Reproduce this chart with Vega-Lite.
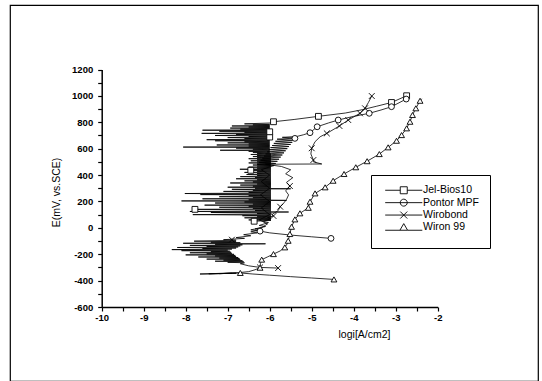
{
 "$schema": "https://vega.github.io/schema/vega-lite/v6.json",
 "width": 528, "height": 376,
 "autosize": {"type": "none"},
 "padding": {"left": 10, "top": 5, "right": 4, "bottom": 0},
 "background": "white",
 "config": {
  "view": {"stroke": "black", "strokeWidth": 1.2},
  "font": "Liberation Sans",
  "axis": {"labelFont": "Liberation Sans", "titleFont": "Liberation Sans", "grid": false}
 },
 "datasets": {
  "curves": [
   {"s":"Jel-Bios10","x":-6.37,"y":50},
   {"s":"Jel-Bios10","x":-5.97,"y":56},{"s":"Jel-Bios10","x":-6.5,"y":60},
   {"s":"Jel-Bios10","x":-5.97,"y":64},{"s":"Jel-Bios10","x":-6.3,"y":68},
   {"s":"Jel-Bios10","x":-5.97,"y":72},{"s":"Jel-Bios10","x":-6.6,"y":76},
   {"s":"Jel-Bios10","x":-5.97,"y":80},{"s":"Jel-Bios10","x":-6.3,"y":84},
   {"s":"Jel-Bios10","x":-5.97,"y":88},{"s":"Jel-Bios10","x":-6.65,"y":92},
   {"s":"Jel-Bios10","x":-5.97,"y":96},{"s":"Jel-Bios10","x":-7.83,"y":100},
   {"s":"Jel-Bios10","x":-5.97,"y":104},{"s":"Jel-Bios10","x":-6.3,"y":108},
   {"s":"Jel-Bios10","x":-5.97,"y":112},{"s":"Jel-Bios10","x":-7.4,"y":116},
   {"s":"Jel-Bios10","x":-5.55,"y":120},{"s":"Jel-Bios10","x":-7.9,"y":124},
   {"s":"Jel-Bios10","x":-5.97,"y":128},{"s":"Jel-Bios10","x":-6.35,"y":132},
   {"s":"Jel-Bios10","x":-5.97,"y":136},{"s":"Jel-Bios10","x":-7.78,"y":140},
   {"s":"Jel-Bios10","x":-5.97,"y":144},{"s":"Jel-Bios10","x":-6.4,"y":148},
   {"s":"Jel-Bios10","x":-5.97,"y":152},{"s":"Jel-Bios10","x":-7.2,"y":156},
   {"s":"Jel-Bios10","x":-5.97,"y":160},{"s":"Jel-Bios10","x":-6.5,"y":164},
   {"s":"Jel-Bios10","x":-5.97,"y":168},{"s":"Jel-Bios10","x":-7.55,"y":172},
   {"s":"Jel-Bios10","x":-5.97,"y":176},{"s":"Jel-Bios10","x":-6.4,"y":180},
   {"s":"Jel-Bios10","x":-5.97,"y":184},{"s":"Jel-Bios10","x":-7.3,"y":188},
   {"s":"Jel-Bios10","x":-5.97,"y":192},{"s":"Jel-Bios10","x":-6.6,"y":196},
   {"s":"Jel-Bios10","x":-5.97,"y":200},{"s":"Jel-Bios10","x":-8.1,"y":204},
   {"s":"Jel-Bios10","x":-5.6,"y":208},{"s":"Jel-Bios10","x":-6.5,"y":212},
   {"s":"Jel-Bios10","x":-5.97,"y":216},{"s":"Jel-Bios10","x":-7.6,"y":220},
   {"s":"Jel-Bios10","x":-5.97,"y":224},{"s":"Jel-Bios10","x":-6.4,"y":228},
   {"s":"Jel-Bios10","x":-5.97,"y":232},{"s":"Jel-Bios10","x":-7.2,"y":236},
   {"s":"Jel-Bios10","x":-5.97,"y":240},{"s":"Jel-Bios10","x":-6.5,"y":244},
   {"s":"Jel-Bios10","x":-5.97,"y":248},{"s":"Jel-Bios10","x":-7.65,"y":252},
   {"s":"Jel-Bios10","x":-5.97,"y":256},{"s":"Jel-Bios10","x":-8.02,"y":260},
   {"s":"Jel-Bios10","x":-5.97,"y":264},{"s":"Jel-Bios10","x":-6.5,"y":268},
   {"s":"Jel-Bios10","x":-5.97,"y":272},{"s":"Jel-Bios10","x":-7.1,"y":276},
   {"s":"Jel-Bios10","x":-5.97,"y":280},{"s":"Jel-Bios10","x":-6.4,"y":284},
   {"s":"Jel-Bios10","x":-5.97,"y":288},{"s":"Jel-Bios10","x":-6.9,"y":292},
   {"s":"Jel-Bios10","x":-5.5,"y":296},{"s":"Jel-Bios10","x":-6.35,"y":300},
   {"s":"Jel-Bios10","x":-5.97,"y":304},{"s":"Jel-Bios10","x":-7.0,"y":308},
   {"s":"Jel-Bios10","x":-5.97,"y":312},{"s":"Jel-Bios10","x":-6.4,"y":316},
   {"s":"Jel-Bios10","x":-5.97,"y":320},{"s":"Jel-Bios10","x":-6.7,"y":324},
   {"s":"Jel-Bios10","x":-5.97,"y":328},{"s":"Jel-Bios10","x":-6.3,"y":332},
   {"s":"Jel-Bios10","x":-5.97,"y":336},{"s":"Jel-Bios10","x":-6.94,"y":340},
   {"s":"Jel-Bios10","x":-5.97,"y":344},{"s":"Jel-Bios10","x":-6.4,"y":348},
   {"s":"Jel-Bios10","x":-5.97,"y":352},{"s":"Jel-Bios10","x":-6.6,"y":356},
   {"s":"Jel-Bios10","x":-5.97,"y":360},{"s":"Jel-Bios10","x":-6.3,"y":364},
   {"s":"Jel-Bios10","x":-5.97,"y":368},{"s":"Jel-Bios10","x":-6.8,"y":372},
   {"s":"Jel-Bios10","x":-5.97,"y":376},{"s":"Jel-Bios10","x":-6.35,"y":380},
   {"s":"Jel-Bios10","x":-5.97,"y":384},{"s":"Jel-Bios10","x":-6.7,"y":388},
   {"s":"Jel-Bios10","x":-5.97,"y":392},{"s":"Jel-Bios10","x":-6.3,"y":396},
   {"s":"Jel-Bios10","x":-5.97,"y":400},{"s":"Jel-Bios10","x":-6.55,"y":404},
   {"s":"Jel-Bios10","x":-5.97,"y":408},{"s":"Jel-Bios10","x":-6.3,"y":412},
   {"s":"Jel-Bios10","x":-5.97,"y":416},{"s":"Jel-Bios10","x":-6.6,"y":420},
   {"s":"Jel-Bios10","x":-5.97,"y":424},{"s":"Jel-Bios10","x":-6.3,"y":428},
   {"s":"Jel-Bios10","x":-5.97,"y":432},{"s":"Jel-Bios10","x":-6.45,"y":436},
   {"s":"Jel-Bios10","x":-5.97,"y":440},{"s":"Jel-Bios10","x":-6.71,"y":444},
   {"s":"Jel-Bios10","x":-5.97,"y":448},{"s":"Jel-Bios10","x":-6.3,"y":452},
   {"s":"Jel-Bios10","x":-5.97,"y":456},{"s":"Jel-Bios10","x":-6.5,"y":460},
   {"s":"Jel-Bios10","x":-5.97,"y":464},{"s":"Jel-Bios10","x":-6.3,"y":468},
   {"s":"Jel-Bios10","x":-5.97,"y":472},{"s":"Jel-Bios10","x":-6.4,"y":476},
   {"s":"Jel-Bios10","x":-5.97,"y":480},{"s":"Jel-Bios10","x":-6.3,"y":484},
   {"s":"Jel-Bios10","x":-5.97,"y":488},{"s":"Jel-Bios10","x":-6.5,"y":492},
   {"s":"Jel-Bios10","x":-5.97,"y":496},{"s":"Jel-Bios10","x":-6.3,"y":500},
   {"s":"Jel-Bios10","x":-5.97,"y":504},{"s":"Jel-Bios10","x":-6.45,"y":508},
   {"s":"Jel-Bios10","x":-5.97,"y":512},{"s":"Jel-Bios10","x":-6.3,"y":516},
   {"s":"Jel-Bios10","x":-5.97,"y":520},{"s":"Jel-Bios10","x":-6.5,"y":524},
   {"s":"Jel-Bios10","x":-5.97,"y":528},{"s":"Jel-Bios10","x":-6.3,"y":532},
   {"s":"Jel-Bios10","x":-5.97,"y":536},{"s":"Jel-Bios10","x":-6.4,"y":540},
   {"s":"Jel-Bios10","x":-5.97,"y":544},{"s":"Jel-Bios10","x":-6.3,"y":548},
   {"s":"Jel-Bios10","x":-5.97,"y":552},{"s":"Jel-Bios10","x":-6.45,"y":556},
   {"s":"Jel-Bios10","x":-5.97,"y":560},{"s":"Jel-Bios10","x":-6.3,"y":564},
   {"s":"Jel-Bios10","x":-6.0,"y":568},{"s":"Jel-Bios10","x":-6.4,"y":572},
   {"s":"Jel-Bios10","x":-6.0,"y":576},{"s":"Jel-Bios10","x":-6.5,"y":580},
   {"s":"Jel-Bios10","x":-6.0,"y":584},{"s":"Jel-Bios10","x":-7.18,"y":588},
   {"s":"Jel-Bios10","x":-6.0,"y":592},{"s":"Jel-Bios10","x":-6.4,"y":596},
   {"s":"Jel-Bios10","x":-6.0,"y":600},{"s":"Jel-Bios10","x":-6.8,"y":604},
   {"s":"Jel-Bios10","x":-6.0,"y":608},{"s":"Jel-Bios10","x":-8.06,"y":612},
   {"s":"Jel-Bios10","x":-6.0,"y":616},{"s":"Jel-Bios10","x":-6.5,"y":620},
   {"s":"Jel-Bios10","x":-6.0,"y":624},{"s":"Jel-Bios10","x":-7.26,"y":628},
   {"s":"Jel-Bios10","x":-6.0,"y":632},{"s":"Jel-Bios10","x":-6.5,"y":636},
   {"s":"Jel-Bios10","x":-6.0,"y":640},{"s":"Jel-Bios10","x":-7.0,"y":644},
   {"s":"Jel-Bios10","x":-6.0,"y":648},{"s":"Jel-Bios10","x":-6.6,"y":652},
   {"s":"Jel-Bios10","x":-6.0,"y":656},{"s":"Jel-Bios10","x":-7.3,"y":660},
   {"s":"Jel-Bios10","x":-6.0,"y":664},{"s":"Jel-Bios10","x":-7.5,"y":668},
   {"s":"Jel-Bios10","x":-6.0,"y":672},{"s":"Jel-Bios10","x":-6.6,"y":676},
   {"s":"Jel-Bios10","x":-6.0,"y":680},{"s":"Jel-Bios10","x":-7.0,"y":684},
   {"s":"Jel-Bios10","x":-6.0,"y":688},{"s":"Jel-Bios10","x":-6.5,"y":692},
   {"s":"Jel-Bios10","x":-6.0,"y":696},{"s":"Jel-Bios10","x":-7.3,"y":700},
   {"s":"Jel-Bios10","x":-6.0,"y":704},{"s":"Jel-Bios10","x":-6.8,"y":708},
   {"s":"Jel-Bios10","x":-6.0,"y":712},{"s":"Jel-Bios10","x":-7.62,"y":716},
   {"s":"Jel-Bios10","x":-6.0,"y":720},{"s":"Jel-Bios10","x":-6.6,"y":724},
   {"s":"Jel-Bios10","x":-6.0,"y":728},{"s":"Jel-Bios10","x":-7.2,"y":732},
   {"s":"Jel-Bios10","x":-6.0,"y":736},{"s":"Jel-Bios10","x":-7.6,"y":740},
   {"s":"Jel-Bios10","x":-6.0,"y":744},{"s":"Jel-Bios10","x":-6.7,"y":748},
   {"s":"Jel-Bios10","x":-6.0,"y":752},{"s":"Jel-Bios10","x":-6.94,"y":756},
   {"s":"Jel-Bios10","x":-6.0,"y":760},{"s":"Jel-Bios10","x":-6.5,"y":764},
   {"s":"Jel-Bios10","x":-6.0,"y":768},{"s":"Jel-Bios10","x":-6.9,"y":772},
   {"s":"Jel-Bios10","x":-6.0,"y":776},{"s":"Jel-Bios10","x":-6.4,"y":780},
   {"s":"Jel-Bios10","x":-6.0,"y":784},{"s":"Jel-Bios10","x":-6.6,"y":788},
   {"s":"Jel-Bios10","x":-5.95,"y":795},{"s":"Jel-Bios10","x":-5.91,"y":804},
   {"s":"Jel-Bios10","x":-5.4,"y":822},{"s":"Jel-Bios10","x":-4.84,"y":845},
   {"s":"Jel-Bios10","x":-4.2,"y":870},{"s":"Jel-Bios10","x":-3.8,"y":895},
   {"s":"Jel-Bios10","x":-3.45,"y":922},{"s":"Jel-Bios10","x":-3.1,"y":950},
   {"s":"Jel-Bios10","x":-2.74,"y":1001},

   {"s":"Pontor MPF","x":-4.54,"y":-80},{"s":"Pontor MPF","x":-5.0,"y":-68},
   {"s":"Pontor MPF","x":-5.5,"y":-55},{"s":"Pontor MPF","x":-6.0,"y":-38},
   {"s":"Pontor MPF","x":-6.23,"y":-25},{"s":"Pontor MPF","x":-6.45,"y":-15},
   {"s":"Pontor MPF","x":-6.2,"y":0},{"s":"Pontor MPF","x":-6.05,"y":30},
   {"s":"Pontor MPF","x":-6.25,"y":60},{"s":"Pontor MPF","x":-6.0,"y":100},
   {"s":"Pontor MPF","x":-6.2,"y":150},{"s":"Pontor MPF","x":-6.0,"y":200},
   {"s":"Pontor MPF","x":-6.22,"y":250},{"s":"Pontor MPF","x":-6.0,"y":300},
   {"s":"Pontor MPF","x":-6.2,"y":350},{"s":"Pontor MPF","x":-6.0,"y":400},
   {"s":"Pontor MPF","x":-6.2,"y":440},{"s":"Pontor MPF","x":-6.0,"y":462},
   {"s":"Pontor MPF","x":-5.895,"y":472},{"s":"Pontor MPF","x":-6.295,"y":480},
   {"s":"Pontor MPF","x":-5.856,"y":488},{"s":"Pontor MPF","x":-6.256,"y":496},
   {"s":"Pontor MPF","x":-5.817,"y":504},{"s":"Pontor MPF","x":-6.217,"y":512},
   {"s":"Pontor MPF","x":-5.777,"y":520},{"s":"Pontor MPF","x":-6.177,"y":528},
   {"s":"Pontor MPF","x":-5.738,"y":536},{"s":"Pontor MPF","x":-6.138,"y":544},
   {"s":"Pontor MPF","x":-5.699,"y":552},{"s":"Pontor MPF","x":-6.099,"y":560},
   {"s":"Pontor MPF","x":-5.659,"y":568},{"s":"Pontor MPF","x":-6.059,"y":576},
   {"s":"Pontor MPF","x":-5.62,"y":584},{"s":"Pontor MPF","x":-6.02,"y":592},
   {"s":"Pontor MPF","x":-5.581,"y":600},{"s":"Pontor MPF","x":-5.981,"y":608},
   {"s":"Pontor MPF","x":-5.542,"y":616},{"s":"Pontor MPF","x":-5.942,"y":624},
   {"s":"Pontor MPF","x":-5.502,"y":632},{"s":"Pontor MPF","x":-5.902,"y":640},
   {"s":"Pontor MPF","x":-5.463,"y":648},{"s":"Pontor MPF","x":-5.863,"y":656},
   {"s":"Pontor MPF","x":-5.424,"y":664},{"s":"Pontor MPF","x":-5.824,"y":672},
   {"s":"Pontor MPF","x":-5.384,"y":680},{"s":"Pontor MPF","x":-5.7,"y":686},
   {"s":"Pontor MPF","x":-5.36,"y":692},{"s":"Pontor MPF","x":-5.2,"y":705},
   {"s":"Pontor MPF","x":-5.04,"y":721},{"s":"Pontor MPF","x":-4.87,"y":766},
   {"s":"Pontor MPF","x":-4.6,"y":795},{"s":"Pontor MPF","x":-4.37,"y":817},
   {"s":"Pontor MPF","x":-4.0,"y":845},{"s":"Pontor MPF","x":-3.63,"y":868},
   {"s":"Pontor MPF","x":-3.35,"y":893},{"s":"Pontor MPF","x":-3.1,"y":918},
   {"s":"Pontor MPF","x":-2.75,"y":976},

   {"s":"Wirobond","x":-5.8,"y":-305},{"s":"Wirobond","x":-6.23,"y":-300},
   {"s":"Wirobond","x":-6.5,"y":-288},{"s":"Wirobond","x":-6.7,"y":-272},
   {"s":"Wirobond","x":-6.6,"y":-265},{"s":"Wirobond","x":-7.0,"y":-261},
   {"s":"Wirobond","x":-6.62,"y":-257},{"s":"Wirobond","x":-7.3,"y":-253},
   {"s":"Wirobond","x":-6.65,"y":-249},{"s":"Wirobond","x":-7.1,"y":-245},
   {"s":"Wirobond","x":-6.7,"y":-241},{"s":"Wirobond","x":-7.5,"y":-237},
   {"s":"Wirobond","x":-6.72,"y":-233},{"s":"Wirobond","x":-7.2,"y":-229},
   {"s":"Wirobond","x":-6.75,"y":-225},{"s":"Wirobond","x":-7.7,"y":-221},
   {"s":"Wirobond","x":-6.8,"y":-217},{"s":"Wirobond","x":-7.3,"y":-213},
   {"s":"Wirobond","x":-6.82,"y":-209},{"s":"Wirobond","x":-8.0,"y":-205},
   {"s":"Wirobond","x":-6.85,"y":-201},{"s":"Wirobond","x":-7.5,"y":-197},
   {"s":"Wirobond","x":-6.9,"y":-193},{"s":"Wirobond","x":-7.9,"y":-189},
   {"s":"Wirobond","x":-6.92,"y":-185},{"s":"Wirobond","x":-7.4,"y":-181},
   {"s":"Wirobond","x":-6.95,"y":-177},{"s":"Wirobond","x":-8.1,"y":-173},
   {"s":"Wirobond","x":-7.0,"y":-169},{"s":"Wirobond","x":-8.33,"y":-165},
   {"s":"Wirobond","x":-6.9,"y":-161},{"s":"Wirobond","x":-7.6,"y":-157},
   {"s":"Wirobond","x":-6.8,"y":-153},{"s":"Wirobond","x":-8.2,"y":-149},
   {"s":"Wirobond","x":-6.75,"y":-145},{"s":"Wirobond","x":-7.5,"y":-141},
   {"s":"Wirobond","x":-6.7,"y":-137},{"s":"Wirobond","x":-7.9,"y":-133},
   {"s":"Wirobond","x":-6.65,"y":-129},{"s":"Wirobond","x":-7.3,"y":-125},
   {"s":"Wirobond","x":-6.1,"y":-121},{"s":"Wirobond","x":-8.06,"y":-117},
   {"s":"Wirobond","x":-6.7,"y":-113},{"s":"Wirobond","x":-7.4,"y":-109},
   {"s":"Wirobond","x":-6.8,"y":-105},{"s":"Wirobond","x":-7.8,"y":-101},
   {"s":"Wirobond","x":-6.8,"y":-94},{"s":"Wirobond","x":-7.1,"y":-90},
   {"s":"Wirobond","x":-6.6,"y":-80},{"s":"Wirobond","x":-6.8,"y":-74},
   {"s":"Wirobond","x":-6.45,"y":-60},{"s":"Wirobond","x":-6.62,"y":-52},
   {"s":"Wirobond","x":-6.3,"y":-38},{"s":"Wirobond","x":-6.45,"y":-30},
   {"s":"Wirobond","x":-6.2,"y":-15},{"s":"Wirobond","x":-6.35,"y":-8},
   {"s":"Wirobond","x":-6.1,"y":10},{"s":"Wirobond","x":-6.25,"y":18},
   {"s":"Wirobond","x":-6.03,"y":40},{"s":"Wirobond","x":-6.15,"y":48},
   {"s":"Wirobond","x":-5.97,"y":70},{"s":"Wirobond","x":-6.05,"y":78},
   {"s":"Wirobond","x":-5.91,"y":90},{"s":"Wirobond","x":-5.95,"y":100},
   {"s":"Wirobond","x":-5.8,"y":130},{"s":"Wirobond","x":-5.75,"y":160},
   {"s":"Wirobond","x":-5.66,"y":190},{"s":"Wirobond","x":-5.6,"y":215},
   {"s":"Wirobond","x":-5.55,"y":250},{"s":"Wirobond","x":-5.62,"y":280},
   {"s":"Wirobond","x":-5.52,"y":317},{"s":"Wirobond","x":-5.6,"y":345},
   {"s":"Wirobond","x":-5.45,"y":380},{"s":"Wirobond","x":-5.62,"y":410},
   {"s":"Wirobond","x":-5.5,"y":440},{"s":"Wirobond","x":-5.72,"y":465},
   {"s":"Wirobond","x":-6.1,"y":482},{"s":"Wirobond","x":-4.76,"y":484},
   {"s":"Wirobond","x":-4.96,"y":500},{"s":"Wirobond","x":-4.96,"y":514},
   {"s":"Wirobond","x":-5.02,"y":560},{"s":"Wirobond","x":-5.0,"y":603},
   {"s":"Wirobond","x":-4.92,"y":653},{"s":"Wirobond","x":-4.8,"y":690},
   {"s":"Wirobond","x":-4.64,"y":716},{"s":"Wirobond","x":-4.34,"y":772},
   {"s":"Wirobond","x":-4.13,"y":817},{"s":"Wirobond","x":-3.85,"y":868},
   {"s":"Wirobond","x":-3.73,"y":906},{"s":"Wirobond","x":-3.65,"y":950},
   {"s":"Wirobond","x":-3.57,"y":999},

   {"s":"Wiron 99","x":-4.47,"y":-391},{"s":"Wiron 99","x":-5.0,"y":-380},
   {"s":"Wiron 99","x":-5.5,"y":-370},{"s":"Wiron 99","x":-6.0,"y":-359},
   {"s":"Wiron 99","x":-6.4,"y":-350},{"s":"Wiron 99","x":-6.7,"y":-342},
   {"s":"Wiron 99","x":-7.2,"y":-347},{"s":"Wiron 99","x":-6.8,"y":-344},
   {"s":"Wiron 99","x":-7.66,"y":-350},{"s":"Wiron 99","x":-6.9,"y":-345},
   {"s":"Wiron 99","x":-7.45,"y":-348},{"s":"Wiron 99","x":-6.75,"y":-340},
   {"s":"Wiron 99","x":-6.5,"y":-332},{"s":"Wiron 99","x":-6.35,"y":-318},
   {"s":"Wiron 99","x":-6.23,"y":-302},{"s":"Wiron 99","x":-6.22,"y":-270},
   {"s":"Wiron 99","x":-6.19,"y":-241},{"s":"Wiron 99","x":-6.05,"y":-220},
   {"s":"Wiron 99","x":-5.91,"y":-199},{"s":"Wiron 99","x":-5.75,"y":-175},
   {"s":"Wiron 99","x":-5.64,"y":-148},{"s":"Wiron 99","x":-5.58,"y":-120},
   {"s":"Wiron 99","x":-5.56,"y":-98},{"s":"Wiron 99","x":-5.52,"y":-47},
   {"s":"Wiron 99","x":-5.48,"y":8},{"s":"Wiron 99","x":-5.4,"y":64},
   {"s":"Wiron 99","x":-5.28,"y":110},{"s":"Wiron 99","x":-5.08,"y":152},
   {"s":"Wiron 99","x":-5.04,"y":198},{"s":"Wiron 99","x":-4.92,"y":261},
   {"s":"Wiron 99","x":-4.68,"y":307},{"s":"Wiron 99","x":-4.49,"y":357},
   {"s":"Wiron 99","x":-4.23,"y":408},{"s":"Wiron 99","x":-3.95,"y":459},
   {"s":"Wiron 99","x":-3.68,"y":505},{"s":"Wiron 99","x":-3.39,"y":559},
   {"s":"Wiron 99","x":-3.18,"y":610},{"s":"Wiron 99","x":-2.98,"y":660},
   {"s":"Wiron 99","x":-2.86,"y":703},{"s":"Wiron 99","x":-2.74,"y":754},
   {"s":"Wiron 99","x":-2.66,"y":804},{"s":"Wiron 99","x":-2.6,"y":855},
   {"s":"Wiron 99","x":-2.52,"y":906},{"s":"Wiron 99","x":-2.42,"y":963},
   {"s":"Wiron 99","x":-2.38,"y":978}
  ],
  "markers": [
   {"s":"Jel-Bios10","x":-6.37,"y":50},{"s":"Jel-Bios10","x":-7.78,"y":140},
   {"s":"Jel-Bios10","x":-6.45,"y":436},{"s":"Jel-Bios10","x":-6.0,"y":688},
   {"s":"Jel-Bios10","x":-6.0,"y":728},{"s":"Jel-Bios10","x":-5.91,"y":804},
   {"s":"Jel-Bios10","x":-4.84,"y":845},{"s":"Jel-Bios10","x":-3.1,"y":950},
   {"s":"Jel-Bios10","x":-2.74,"y":1001},
   {"s":"Pontor MPF","x":-4.54,"y":-80},{"s":"Pontor MPF","x":-6.23,"y":-25},
   {"s":"Pontor MPF","x":-5.4,"y":678},{"s":"Pontor MPF","x":-5.04,"y":721},
   {"s":"Pontor MPF","x":-4.87,"y":766},{"s":"Pontor MPF","x":-4.37,"y":817},
   {"s":"Pontor MPF","x":-3.63,"y":868},{"s":"Pontor MPF","x":-3.1,"y":918},
   {"s":"Pontor MPF","x":-2.75,"y":976},
   {"s":"Wirobond","x":-5.8,"y":-305},{"s":"Wirobond","x":-6.23,"y":-300},
   {"s":"Wirobond","x":-6.9,"y":-90},{"s":"Wirobond","x":-5.91,"y":90},
   {"s":"Wirobond","x":-5.75,"y":160},{"s":"Wirobond","x":-5.52,"y":317},
   {"s":"Wirobond","x":-4.96,"y":514},{"s":"Wirobond","x":-5.0,"y":603},
   {"s":"Wirobond","x":-4.64,"y":716},{"s":"Wirobond","x":-4.34,"y":772},
   {"s":"Wirobond","x":-4.13,"y":817},{"s":"Wirobond","x":-3.85,"y":868},
   {"s":"Wirobond","x":-3.73,"y":906},{"s":"Wirobond","x":-3.57,"y":999},
   {"s":"Wiron 99","x":-4.47,"y":-391},{"s":"Wiron 99","x":-6.7,"y":-342},
   {"s":"Wiron 99","x":-6.23,"y":-302},{"s":"Wiron 99","x":-6.19,"y":-241},
   {"s":"Wiron 99","x":-5.91,"y":-199},{"s":"Wiron 99","x":-5.64,"y":-148},
   {"s":"Wiron 99","x":-5.56,"y":-98},{"s":"Wiron 99","x":-5.52,"y":-47},
   {"s":"Wiron 99","x":-5.48,"y":8},{"s":"Wiron 99","x":-5.4,"y":64},
   {"s":"Wiron 99","x":-5.28,"y":110},{"s":"Wiron 99","x":-5.08,"y":152},
   {"s":"Wiron 99","x":-5.04,"y":198},{"s":"Wiron 99","x":-4.92,"y":261},
   {"s":"Wiron 99","x":-4.68,"y":307},{"s":"Wiron 99","x":-4.49,"y":357},
   {"s":"Wiron 99","x":-4.23,"y":408},{"s":"Wiron 99","x":-3.95,"y":459},
   {"s":"Wiron 99","x":-3.68,"y":505},{"s":"Wiron 99","x":-3.39,"y":559},
   {"s":"Wiron 99","x":-3.18,"y":610},{"s":"Wiron 99","x":-2.98,"y":660},
   {"s":"Wiron 99","x":-2.86,"y":703},{"s":"Wiron 99","x":-2.74,"y":754},
   {"s":"Wiron 99","x":-2.66,"y":804},{"s":"Wiron 99","x":-2.6,"y":855},
   {"s":"Wiron 99","x":-2.52,"y":906},{"s":"Wiron 99","x":-2.42,"y":963}
  ]
 },
 "encoding": {
  "x": {"field": "x", "type": "quantitative",
   "scale": {"domain": [-10, -2], "range": [91.7, 427.7], "nice": false, "zero": false},
   "axis": {"orient": "bottom", "offset": -74,
    "values": [-10,-9.5,-9,-8.5,-8,-7.5,-7,-6.5,-6,-5.5,-5,-4.5,-4,-3.5,-3,-2.5,-2],
    "labelExpr": "datum.value % 1 == 0 ? toString(datum.value) : ''",
    "tickSize": 4,
    "tickColor": "black", "tickWidth": 1.2, "domainColor": "black", "domainWidth": 1.5,
    "labelColor": "black", "labelFontWeight": "bold", "labelFontSize": 9.5, "labelPadding": 1.5,
    "labelFlush": false, "labelOverlap": false,
    "title": "logi[A/cm2]", "titleX": 354, "titleY": 27, "titleBaseline": "middle", "titleAlign": "center",
    "titleFontWeight": "normal", "titleFontSize": 10.5, "titleColor": "black"}},
  "y": {"field": "y", "type": "quantitative",
   "scale": {"domain": [-600, 1200], "range": [302, 64.5], "nice": false, "zero": false},
   "axis": {"orient": "left", "offset": -91.7,
    "values": [-600,-500,-400,-300,-200,-100,0,100,200,300,400,500,600,700,800,900,1000,1100,1200],
    "labelExpr": "datum.value % 200 == 0 ? toString(datum.value) : ''",
    "tickSize": 4,
    "tickColor": "black", "tickWidth": 1.2, "domainColor": "black", "domainWidth": 1.5,
    "labelColor": "black", "labelFontWeight": "bold", "labelFontSize": 9.5, "labelPadding": 5,
    "labelOverlap": false, "labelFlush": false,
    "title": "E(mV, vs.SCE)", "titleX": -45, "titleY": 187, "titleBaseline": "middle", "titleAlign": "center",
    "titleFontWeight": "normal", "titleFontSize": 10.5, "titleColor": "black"}}
 },
 "layer": [
  {"data": {"name": "curves"},
   "transform": [{"window": [{"op": "row_number", "as": "i"}]}],
   "mark": {"type": "line", "color": "black", "strokeWidth": 0.8},
   "encoding": {"detail": {"field": "s", "type": "nominal"}, "order": {"field": "i", "type": "quantitative"}}},
  {"data": {"name": "markers"},
   "mark": {"type": "point", "filled": true, "fill": "white", "stroke": "black", "strokeWidth": 0.9, "size": 34, "opacity": 1},
   "encoding": {"shape": {"field": "s", "type": "nominal",
     "scale": {"domain": ["Jel-Bios10","Pontor MPF","Wirobond","Wiron 99"],
      "range": ["square","circle","M-1,-1L1,1M-1,1L1,-1","triangle-up"]},
     "legend": null}}},
  {"data": {"name": "markers"},
   "transform": [{"filter": "datum.x > 100"}],
   "mark": {"type": "point", "filled": false, "color": "black", "strokeWidth": 0.9, "opacity": 1},
   "encoding": {"shape": {"field": "s", "type": "nominal",
     "scale": {"domain": ["Jel-Bios10","Pontor MPF","Wirobond","Wiron 99"],
      "range": ["M-5.3,0H-1M1,0H5.3M-1,-1H1V1H-1Z",
                "M-5.3,0H5.3M-1,0A1,1,0,1,1,1,0A1,1,0,1,1,-1,0Z",
                "M-5.3,0H5.3M-1,-1L1,1M-1,1L1,-1",
                "M-5.3,0.8H-1.1M1.1,0.8H5.3M-1.1,0.8L0,-1.1L1.1,0.8Z"]},
     "legend": {"orient": "none", "legendX": 361, "legendY": 170, "direction": "vertical",
      "title": " ", "titleFontSize": 5, "titlePadding": 0, "titleOrient": "bottom",
      "strokeColor": "black", "fillColor": "white",
      "padding": 10, "symbolOffset": 17.5, "labelOffset": 14, "symbolSize": 49,
      "symbolStrokeWidth": 0.9, "symbolStrokeColor": "black",
      "labelFontSize": 10.5, "labelFont": "Liberation Sans", "labelColor": "black", "rowPadding": 0.4,
      "cornerRadius": 0}}}}
 ],
 "resolve": {"scale": {"shape": "independent"}}
}
